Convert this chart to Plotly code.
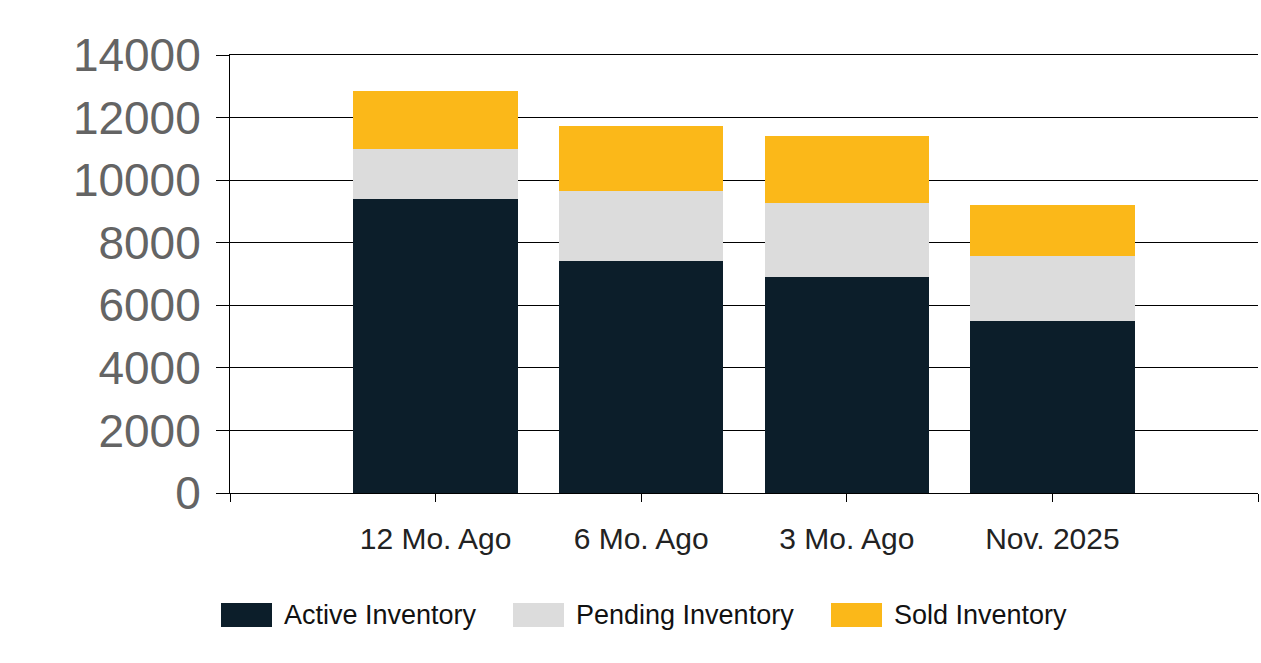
import plotly.graph_objects as go

categories = ["12 Mo. Ago", "6 Mo. Ago", "3 Mo. Ago", "Nov. 2025"]
active = [9400, 7415, 6905, 5500]
pending = [1600, 2250, 2365, 2075]
sold = [1850, 2065, 2140, 1630]
series_names = ["Active Inventory", "Pending Inventory", "Sold Inventory"]
colors = ["#0C1E2A", "#DCDCDC", "#FBB819"]
y_ticks = [0, 2000, 4000, 6000, 8000, 10000, 12000, 14000]
y_ticktext = [str(v) for v in y_ticks]

xpos = list(range(1, len(categories) + 1))

W, H = 1261, 663
L, T = 230, 55
PW, PH = 1028, 438

fig = go.Figure()
for name, vals, col in zip(series_names, [active, pending, sold], colors):
    fig.add_trace(go.Bar(
        x=xpos, y=vals, name=name, width=0.8,
        marker=dict(color=col, line=dict(width=0)),
        showlegend=False,
    ))

# manual legend with wide swatches (positions in page pixels)
leg_x = [221, 513, 831]
for lx, name, col in zip(leg_x, series_names, colors):
    fig.add_shape(type="rect", xref="paper", yref="paper",
                  x0=(lx - L) / PW, x1=(lx + 51 - L) / PW,
                  y0=(T + PH - 627) / PH, y1=(T + PH - 603) / PH,
                  fillcolor=col, line=dict(width=0))
    fig.add_annotation(xref="paper", yref="paper",
                       x=(lx + 61 - L) / PW, y=(T + PH - 615) / PH,
                       text=name, showarrow=False, xanchor="left", yanchor="middle",
                       font=dict(family="Liberation Sans, Arial, sans-serif", size=27, color="#111111"))

fig.update_layout(
    barmode="stack",
    width=W, height=H,
    margin=dict(l=L, r=W - L - PW, t=T, b=H - T - PH),
    plot_bgcolor="white", paper_bgcolor="white",
)
fig.update_xaxes(
    range=[0, len(categories) + 1],
    tickmode="array",
    tickvals=[0] + xpos + [len(categories) + 1],
    ticktext=[""] + categories + [""],
    showgrid=False, zeroline=False,
    showline=True, linecolor="black", linewidth=1, mirror=True,
    ticks="outside", ticklen=8, tickcolor="black", tickwidth=1,
    ticklabelstandoff=11,
    tickfont=dict(family="Liberation Sans, Arial, sans-serif", size=30, color="#222222"),
)
fig.update_yaxes(
    range=[0, 14000],
    tickmode="array", tickvals=y_ticks, ticktext=y_ticktext,
    showgrid=True, gridcolor="black", gridwidth=1,
    zeroline=False,
    showline=True, linecolor="black", linewidth=1,
    ticks="outside", ticklen=13, tickcolor="black", tickwidth=1,
    ticklabelstandoff=6,
    tickfont=dict(family="Liberation Sans, Arial, sans-serif", size=46, color="#646464"),
)

fig.write_html("out.html",
               config={"displayModeBar": False},
               post_script="document.body.style.margin='0';document.body.style.overflow='hidden';")
